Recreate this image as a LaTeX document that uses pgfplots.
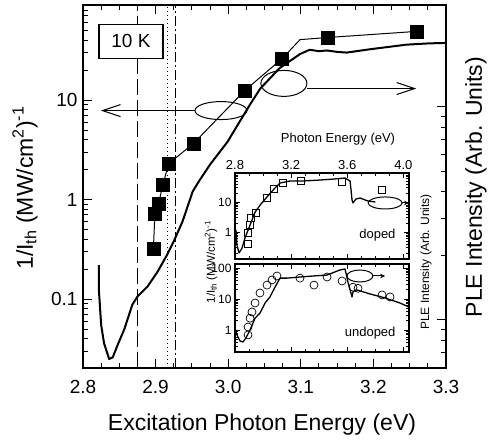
\documentclass[border=0pt]{standalone}
\usepackage{fontspec}
\setmainfont{Liberation Sans}
\usepackage{pgfplots}
\pgfplotsset{compat=1.18}
\usetikzlibrary{arrows.meta}

\begin{document}
\begin{tikzpicture}[x=1pt,y=1pt]
\path[use as bounding box] (0,0) rectangle (488,445);

% ---------------- main axis ----------------
\begin{axis}[
  at={(83pt,77pt)}, anchor=south west,
  width=363pt, height=363pt, scale only axis,
  xmin=2.8, xmax=3.3, ymode=log, ymin=0.0203, ymax=90.2,
  xtick={2.8,2.9,3.0,3.1,3.2,3.3}, xticklabels={2.8,2.9,3.0,3.1,3.2,3.3},
  minor x tick num=3,
  ytick={0.1,1,10}, yticklabels={0.1,1,10},
  minor ytick={0.03,0.04,0.05,0.06,0.07,0.08,0.09,0.2,0.3,0.4,0.5,0.6,0.7,0.8,0.9,2,3,4,5,6,7,8,9,20,30,40,50,60,70,80},
  ytick pos=left,
  tick label style={font=\fontsize{19}{19}\selectfont},
  xticklabel style={yshift=-9pt},
  yticklabel style={xshift=-2pt},
  /pgf/number format/assume math mode=true,
  major tick length=9pt, minor tick length=5pt,
  every tick/.style={black, line width=1pt},
  axis line style={line width=1.6pt},
]
% vertical guide lines
\addplot[black, line width=1.1pt, dash pattern=on 16pt off 5pt] coordinates {(2.875,0.0203) (2.875,90.2)};
\addplot[black, line width=1.1pt, dash pattern=on 1.5pt off 2.5pt] coordinates {(2.917,0.0203) (2.917,90.2)};
\addplot[black, line width=1.1pt, dash pattern=on 10pt off 3pt on 2pt off 3pt] coordinates {(2.927,0.0203) (2.927,90.2)};

% PLE spectrum
\addplot[black, line width=2pt, line join=round] coordinates {
(2.822,0.22) (2.822,0.12) (2.825,0.055) (2.829,0.036) (2.836,0.025) (2.841,0.026)
(2.848,0.035) (2.857,0.05) (2.868,0.088) (2.875,0.106) (2.889,0.134) (2.903,0.19)
(2.916,0.28) (2.925,0.38) (2.937,0.6) (2.951,1.2) (2.959,1.5) (2.975,2.25)
(2.999,3.8) (3.016,6.1) (3.030,9) (3.044,13) (3.071,21) (3.099,29) (3.112,32)
(3.125,31) (3.136,31.5) (3.150,30.5) (3.163,30) (3.177,31) (3.190,32) (3.204,33)
(3.218,34) (3.232,35) (3.245,36) (3.259,36.5) (3.273,37) (3.287,37.3) (3.300,37.5)};

% threshold guide line
\addplot[black, line width=1pt] coordinates {
(2.897,0.32) (2.899,0.72) (2.904,0.91) (2.910,1.41) (2.918,2.3) (2.952,3.65)
(3.023,12.5) (3.074,26) (3.099,40.5) (3.137,42.5) (3.260,49)};
% threshold points
\addplot[only marks, mark=square*, mark size=6.5pt, black] coordinates {
(2.897,0.32) (2.899,0.72) (2.904,0.91) (2.910,1.41) (2.918,2.3) (2.952,3.65)
(3.023,12.5) (3.074,26) (3.137,42.5) (3.260,49)};

% annotations
\draw[line width=1pt] (axis cs:2.990,7.84) ellipse [x radius=26pt, y radius=9pt];
\draw[line width=1pt, -{Straight Barb[length=18pt,width=12pt,line width=1pt]}] (axis cs:2.9545,7.84) -- (axis cs:2.8247,7.84);
\draw[line width=1pt] (axis cs:3.0767,14.7) ellipse [x radius=23pt, y radius=13pt];
\draw[line width=1pt, -{Straight Barb[length=18pt,width=12pt,line width=1pt]}] (axis cs:3.108,13.05) -- (axis cs:3.259,13.05);

\node[draw, line width=1.2pt, fill=white, minimum width=64pt, minimum height=34pt,
      font=\fontsize{19}{19}\selectfont, inner sep=0pt] at (axis cs:2.866,39) {10 K};
\end{axis}

% right axis ticks (PLE)
\begin{axis}[
  at={(83pt,77pt)}, anchor=south west,
  width=363pt, height=363pt, scale only axis,
  xmin=2.8, xmax=3.3, ymode=log, ymin=0.595, ymax=30.1,
  axis x line=none, axis y line*=right, tick align=inside,
  ytick={1,10}, yticklabels={},
  minor ytick={0.6,0.7,0.8,0.9,2,3,4,5,6,7,8,9,20,30},
  major tick length=9pt, minor tick length=5pt,
  every tick/.style={black, line width=1pt},
  axis line style={line width=1.6pt},
]
\end{axis}

% ---------------- inset, upper (doped) ----------------
\begin{axis}[
  at={(235pt,186pt)}, anchor=south west,
  width=174pt, height=86pt, scale only axis,
  axis background/.style={fill=white},
  xmin=2.8, xmax=4.04, ymode=log, ymin=0.126, ymax=92.7,
  xtick={2.8,3.2,3.6,4.0}, xticklabels={2.8,3.2,3.6,4.0},
  xticklabel pos=upper, minor x tick num=3,
  ytick={1,10}, yticklabels={1,10},
  minor ytick={0.2,0.3,0.4,0.5,0.6,0.7,0.8,0.9,2,3,4,5,6,7,8,9,20,30,40,50,60,70,80,90},
  x tick label style={font=\fontsize{13}{13}\selectfont},
  y tick label style={font=\fontsize{12}{12}\selectfont},
  /pgf/number format/assume math mode=true,
  major tick length=5pt, minor tick length=3pt,
  every tick/.style={black, line width=0.7pt},
  axis line style={line width=1.5pt},
]
\addplot[black, line width=1.3pt, line join=round] coordinates {
(2.807,1.17) (2.814,0.37) (2.829,0.2) (2.850,0.29) (2.871,0.63) (2.907,1.7)
(2.943,4.6) (2.985,8.6) (3.028,14.7) (3.078,27) (3.121,43) (3.192,50) (3.278,50)
(3.406,54) (3.499,58) (3.584,63) (3.620,50) (3.627,25) (3.634,11.7) (3.641,9.3)
(3.662,12.6) (3.691,13.6) (3.727,11.7) (3.748,10.8) (3.80,10)};
\addplot[only marks, mark=square, mark size=3.6pt, mark options={line width=0.7pt}, black] coordinates {
(2.893,0.4) (2.893,0.93) (2.907,1.7) (2.914,2.9) (2.950,4.3) (3.028,13.6)
(3.078,27) (3.142,43) (3.270,50) (3.563,46) (3.848,25)};
\draw[line width=1pt] (axis cs:3.87,9.3) ellipse [x radius=17pt, y radius=6pt];
\draw[line width=1pt, -{Stealth[length=5pt,width=4.5pt]}] (axis cs:3.99,9.3) -- (axis cs:4.04,9.3);
\end{axis}

% ---------------- inset, lower (undoped) ----------------
\begin{axis}[
  at={(235pt,93pt)}, anchor=south west,
  width=174pt, height=88pt, scale only axis,
  axis background/.style={fill=white},
  xmin=2.8, xmax=4.04, ymode=log, ymin=0.195, ymax=134,
  xtick={2.8,3.2,3.6,4.0}, xticklabels={},
  minor x tick num=3,
  ytick={1,10,100}, yticklabels={1,10,100},
  minor ytick={0.2,0.3,0.4,0.5,0.6,0.7,0.8,0.9,2,3,4,5,6,7,8,9,20,30,40,50,60,70,80,90},
  y tick label style={font=\fontsize{12}{12}\selectfont},
  /pgf/number format/assume math mode=true,
  major tick length=5pt, minor tick length=3pt,
  every tick/.style={black, line width=0.7pt},
  axis line style={line width=1.5pt},
]
\addplot[black, line width=1.3pt, line join=round] coordinates {
(2.800,1.16) (2.814,0.69) (2.836,0.44) (2.857,0.41) (2.878,0.55) (2.907,1.0)
(2.943,2.4) (2.978,3.5) (3.014,7.4) (3.049,11.6) (3.085,24) (3.121,47) (3.171,47)
(3.263,51) (3.356,55) (3.456,59) (3.548,86) (3.584,93) (3.605,35) (3.634,11.6)
(3.641,17) (3.670,19.5) (3.762,14.5) (3.869,10.8) (3.976,7.4) (4.040,5.5)};
\addplot[only marks, mark=o, mark size=4pt, mark options={line width=0.7pt}, black] coordinates {
(2.893,0.69) (2.893,1.25) (2.907,2.4) (2.921,3.8) (2.943,7.4) (2.978,15.6)
(3.028,28) (3.064,41) (3.099,55) (3.263,47) (3.363,28) (3.456,51) (3.563,38)
(3.641,24) (3.677,22) (3.848,13.5) (3.905,11.6)};
\draw[line width=1pt] (axis cs:3.69,55) ellipse [x radius=13pt, y radius=6pt];
\draw[line width=1pt, -{Stealth[length=5pt,width=4.5pt]}] (axis cs:3.78,55) -- (axis cs:3.87,55);
\end{axis}

% ---------------- labels ----------------
\node[font=\fontsize{23}{23}\selectfont] at (262,20) {Excitation Photon Energy (eV)};
\node[font=\fontsize{23}{23}\selectfont, rotate=90] at (25,257)
  {1/I\textsubscript{th} (MW/cm\textsuperscript{2})\textsuperscript{-1}};
\node[font=\fontsize{23}{23}\selectfont, rotate=90] at (476,258) {PLE Intensity (Arb. Units)};

\node[font=\fontsize{13}{13}\selectfont] at (338,306) {Photon Energy (eV)};
\node[font=\fontsize{11.5}{11.5}\selectfont, rotate=90] at (211,183)
  {1/I\textsubscript{th} (MW/cm\textsuperscript{2})\textsuperscript{-1}};
\node[font=\fontsize{12}{12}\selectfont, rotate=90] at (426,183) {PLE Intensity (Arb. Units)};
\node[font=\fontsize{13}{13}\selectfont, anchor=east] at (399,210) {doped};
\node[font=\fontsize{13}{13}\selectfont, anchor=east] at (399,112) {undoped};
\end{tikzpicture}
\end{document}
